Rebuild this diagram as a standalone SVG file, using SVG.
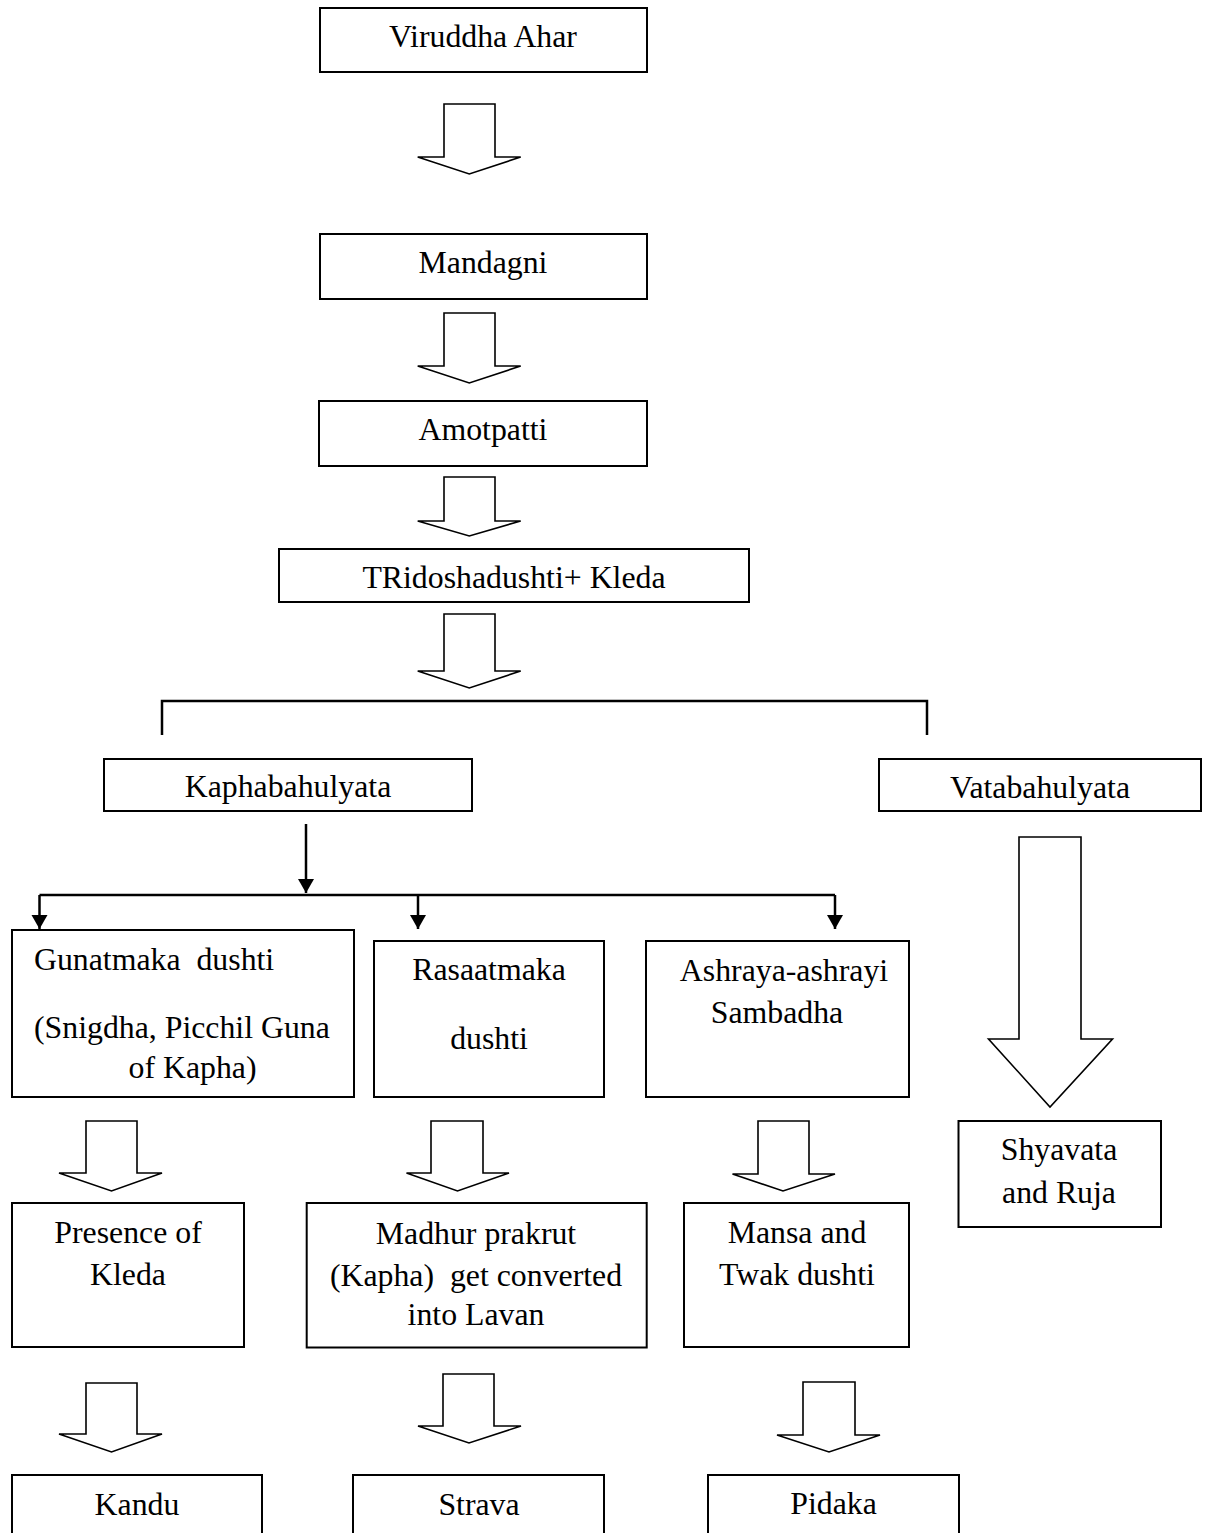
<svg xmlns="http://www.w3.org/2000/svg" width="1211" height="1533" viewBox="0 0 1211 1533">
<style>
.box{fill:#fff;stroke:#000;stroke-width:2}
.blk{fill:#fff;stroke:#000;stroke-width:1.6;stroke-linejoin:miter}
.ln{fill:none;stroke:#000;stroke-width:2.5}
text{font-family:"Liberation Serif","Times New Roman",serif;font-size:31.8px;fill:#000;white-space:pre}
.c{text-anchor:middle}
</style>
<defs>
<marker id="ah" markerUnits="userSpaceOnUse" markerWidth="15" markerHeight="17" refX="14" refY="8" orient="auto">
<path d="M0,0 L14,8 L0,16 z" fill="#000"/>
</marker>
</defs>
<rect width="1211" height="1533" fill="#fff"/>

<g id="connectors">
<polygon class="blk" points="444,104 495,104 495,157 520.7,157 469.3,174 417.7,157 444,157"/>
<polygon class="blk" points="444,313 495,313 495,366 520.7,366 469.3,383 417.7,366 444,366"/>
<polygon class="blk" points="444,477 495,477 495,521 520.7,521 469.3,536 417.7,521 444,521"/>
<polygon class="blk" points="444,614 495,614 495,671 520.7,671 469.3,688 417.7,671 444,671"/>
<polyline class="ln" points="162,735 162,701 927,701 927,735"/>
<line class="ln" x1="306" y1="824" x2="306" y2="893" marker-end="url(#ah)"/>
<line class="ln" x1="39.5" y1="895" x2="835" y2="895"/>
<line class="ln" x1="39.5" y1="895" x2="39.5" y2="929" marker-end="url(#ah)"/>
<line class="ln" x1="418" y1="895" x2="418" y2="929" marker-end="url(#ah)"/>
<line class="ln" x1="835" y1="895" x2="835" y2="929" marker-end="url(#ah)"/>
<polygon class="blk" points="1019,837 1081,837 1081,1039 1112.5,1039 1050,1107 988.5,1039 1019,1039"/>
<polygon class="blk" points="86,1121 137,1121 137,1173 162,1173 111.5,1191 59,1173 86,1173"/>
<polygon class="blk" points="431,1121 483,1121 483,1173 509,1173 457.5,1191 406.5,1173 431,1173"/>
<polygon class="blk" points="758,1121 809,1121 809,1174 835,1174 783,1191 732.5,1174 758,1174"/>
<polygon class="blk" points="86,1383 137,1383 137,1434 162,1434 111.5,1452 59,1434 86,1434"/>
<polygon class="blk" points="443,1374 494,1374 494,1426 521,1426 469,1443 418,1426 443,1426"/>
<polygon class="blk" points="803,1382 855,1382 855,1435 880,1435 829,1452 777,1435 803,1435"/>
</g>

<g id="n-viruddha"><rect class="box" x="320" y="8" width="327" height="64"/><text class="c" x="483" y="47">Viruddha Ahar</text></g>
<g id="n-mandagni"><rect class="box" x="320" y="234" width="327" height="65"/><text class="c" x="483" y="273">Mandagni</text></g>
<g id="n-amotpatti"><rect class="box" x="319" y="401" width="328" height="65"/><text class="c" x="483" y="440">Amotpatti</text></g>
<g id="n-tridosha"><rect class="box" x="279" y="549" width="470" height="53"/><text class="c" x="514" y="588">TRidoshadushti+ Kleda</text></g>
<g id="n-kapha"><rect class="box" x="104" y="759" width="368" height="52"/><text class="c" x="288" y="797">Kaphabahulyata</text></g>
<g id="n-vata"><rect class="box" x="879" y="759" width="322" height="52"/><text class="c" x="1040" y="798">Vatabahulyata</text></g>
<g id="n-gunatmaka"><rect class="box" x="12" y="930" width="342" height="167"/>
<text x="34" y="970">Gunatmaka  dushti</text>
<text x="34" y="1038">(Snigdha, Picchil Guna</text>
<text x="128.5" y="1078">of Kapha)</text></g>
<g id="n-rasaatmaka"><rect class="box" x="374" y="941" width="230" height="156"/>
<text class="c" x="489" y="980">Rasaatmaka</text>
<text class="c" x="489" y="1049">dushti</text></g>
<g id="n-ashraya"><rect class="box" x="646" y="941" width="263" height="156"/>
<text class="c" x="784" y="981">Ashraya-ashrayi</text>
<text class="c" x="777" y="1023">Sambadha</text></g>
<g id="n-shyavata"><rect class="box" x="958.5" y="1121" width="202.5" height="106"/>
<text class="c" x="1059" y="1160">Shyavata</text>
<text class="c" x="1059" y="1203">and Ruja</text></g>
<g id="n-presence"><rect class="box" x="12" y="1203" width="232" height="144"/>
<text class="c" x="128" y="1243">Presence of</text>
<text class="c" x="128" y="1285">Kleda</text></g>
<g id="n-madhur"><rect class="box" x="306.7" y="1203" width="340" height="144.5"/>
<text class="c" x="476" y="1244">Madhur prakrut</text>
<text class="c" x="476" y="1285.5">(Kapha)  get converted</text>
<text class="c" x="476" y="1325">into Lavan</text></g>
<g id="n-mansa"><rect class="box" x="684" y="1203" width="225" height="144"/>
<text class="c" x="797" y="1243">Mansa and</text>
<text class="c" x="797" y="1285">Twak dushti</text></g>
<g id="n-kandu"><rect class="box" x="12" y="1475" width="250" height="80"/><text class="c" x="137" y="1515">Kandu</text></g>
<g id="n-strava"><rect class="box" x="353" y="1475" width="251" height="80"/><text class="c" x="479" y="1515">Strava</text></g>
<g id="n-pidaka"><rect class="box" x="708" y="1475" width="251" height="80"/><text class="c" x="833.5" y="1514">Pidaka</text></g>
</svg>
